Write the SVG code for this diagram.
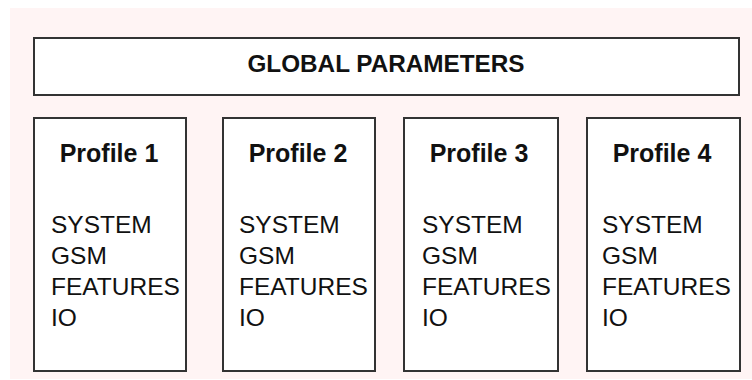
<svg xmlns="http://www.w3.org/2000/svg" width="752" height="380" viewBox="0 0 752 380">
<style>
.box{fill:#ffffff;stroke:#333333;stroke-width:2}
.title{font-family:"Liberation Sans",Arial,sans-serif;font-weight:bold;font-size:24.3px;fill:#111;text-anchor:middle}
.ptitle{font-size:25px}
.item{font-family:"Liberation Sans",Arial,sans-serif;font-size:24.5px;fill:#111}
</style>
<rect x="0" y="0" width="752" height="380" fill="#ffffff"/>
<rect x="10" y="8" width="742" height="371" fill="#fff4f4"/>
<g id="global">
<rect class="box" x="34" y="38" width="705" height="57"/>
<text class="title" x="386" y="72">GLOBAL PARAMETERS</text>
</g>
<g id="profile1">
<rect class="box" x="34" y="118" width="152" height="253"/>
<text class="title ptitle" x="109" y="162">Profile 1</text>
<text class="item" x="51" y="233">SYSTEM</text>
<text class="item" x="51" y="264">GSM</text>
<text class="item" x="51" y="295">FEATURES</text>
<text class="item" x="51" y="326">IO</text>
</g>
<g id="profile2">
<rect class="box" x="223" y="118" width="152" height="253"/>
<text class="title ptitle" x="298" y="162">Profile 2</text>
<text class="item" x="239" y="233">SYSTEM</text>
<text class="item" x="239" y="264">GSM</text>
<text class="item" x="239" y="295">FEATURES</text>
<text class="item" x="239" y="326">IO</text>
</g>
<g id="profile3">
<rect class="box" x="404" y="118" width="154" height="253"/>
<text class="title ptitle" x="479" y="162">Profile 3</text>
<text class="item" x="422" y="233">SYSTEM</text>
<text class="item" x="422" y="264">GSM</text>
<text class="item" x="422" y="295">FEATURES</text>
<text class="item" x="422" y="326">IO</text>
</g>
<g id="profile4">
<rect class="box" x="587" y="118" width="153" height="253"/>
<text class="title ptitle" x="662" y="162">Profile 4</text>
<text class="item" x="602" y="233">SYSTEM</text>
<text class="item" x="602" y="264">GSM</text>
<text class="item" x="602" y="295">FEATURES</text>
<text class="item" x="602" y="326">IO</text>
</g>
<g id="connectors"></g>
</svg>
